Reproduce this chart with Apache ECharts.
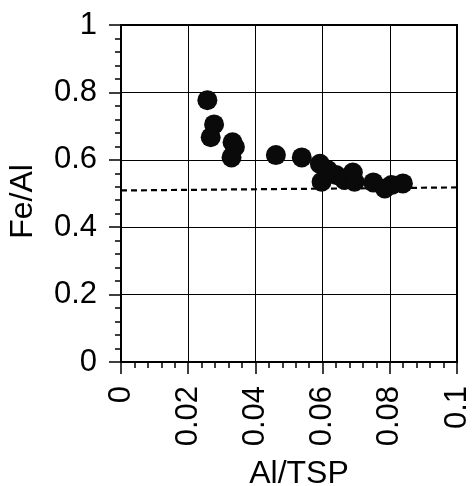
<!DOCTYPE html>
<html>
<head>
<meta charset="utf-8">
<script src="https://cdn.jsdelivr.net/npm/echarts@6/dist/echarts.min.js"></script>
<style>
    html, body { margin: 0; padding: 0; background: #fff; }
    #chart { width: 473px; height: 486px; }
</style>
</head>
<body>
<div id="chart"></div>
<script>
// 散点数据 Al/TSP vs Fe/Al
var alTsp = [0.0257, 0.0277, 0.0267, 0.0332, 0.0339, 0.0329, 0.0461, 0.0538, 0.0592, 0.0597,
    0.0615, 0.0640, 0.0665, 0.0690, 0.0695, 0.0751, 0.0785, 0.0805, 0.0839];
var feAl = [0.777, 0.705, 0.667, 0.652, 0.638, 0.607, 0.614, 0.607, 0.588, 0.535,
    0.570, 0.555, 0.540, 0.562, 0.535, 0.533, 0.515, 0.525, 0.530];
// 参考虚线
var refX = [0, 0.1];
var refY = [0.509, 0.518];

var font = '"Liberation Sans", Arial, sans-serif';

var points = [];
for (var i = 0; i < alTsp.length; i++) {
    points.push([alTsp[i], feAl[i]]);
}
var refLine = [];
for (var j = 0; j < refX.length; j++) {
    refLine.push([refX[j], refY[j]]);
}

var chart = echarts.init(document.getElementById('chart'));
var option = {
    animation: false,
    grid: {
        left: 121,
        top: 25,
        width: 336,
        height: 337,
        outerBoundsMode: 'none',
        containLabel: false,
        show: true,
        borderColor: '#000',
        borderWidth: 2
    },
    xAxis: {
        type: 'value',
        min: 0,
        max: 0.1,
        interval: 0.02,
        name: 'Al/TSP',
        nameLocation: 'middle',
        nameGap: 96,
        nameTextStyle: { color: '#000', fontSize: 32, fontFamily: font, padding: [0, 0, 0, 20] },
        axisLine: { lineStyle: { color: '#000', width: 2 } },
        axisTick: { length: 12, lineStyle: { color: '#000', width: 1.5 } },
        minorTick: { show: true, splitNumber: 5, length: 6, lineStyle: { color: '#000', width: 1.5 } },
        splitLine: { show: true, lineStyle: { color: '#000', width: 1 } },
        axisLabel: { rotate: 90, margin: 24, color: '#000', fontSize: 31, fontFamily: font }
    },
    yAxis: {
        type: 'value',
        min: 0,
        max: 1,
        interval: 0.2,
        name: 'Fe/Al',
        nameLocation: 'middle',
        nameGap: 82,
        nameTextStyle: { color: '#000', fontSize: 32, fontFamily: font, padding: [0, 0, 0, -16] },
        axisLine: { lineStyle: { color: '#000', width: 2 } },
        axisTick: { length: 12, lineStyle: { color: '#000', width: 1.5 } },
        minorTick: { show: true, splitNumber: 5, length: 6, lineStyle: { color: '#000', width: 1.5 } },
        splitLine: { show: true, lineStyle: { color: '#000', width: 1 } },
        axisLabel: { margin: 24, color: '#000', fontSize: 31, fontFamily: font }
    },
    series: [
        {
            type: 'line',
            data: refLine,
            symbol: 'none',
            lineStyle: { color: '#000', width: 2.2, type: [6, 4] },
            z: 2
        },
        {
            type: 'scatter',
            data: points,
            symbol: 'circle',
            symbolSize: 20,
            itemStyle: { color: '#0a0a0a', opacity: 1 },
            z: 3
        }
    ]
};
chart.setOption(option);
</script>
</body>
</html>
